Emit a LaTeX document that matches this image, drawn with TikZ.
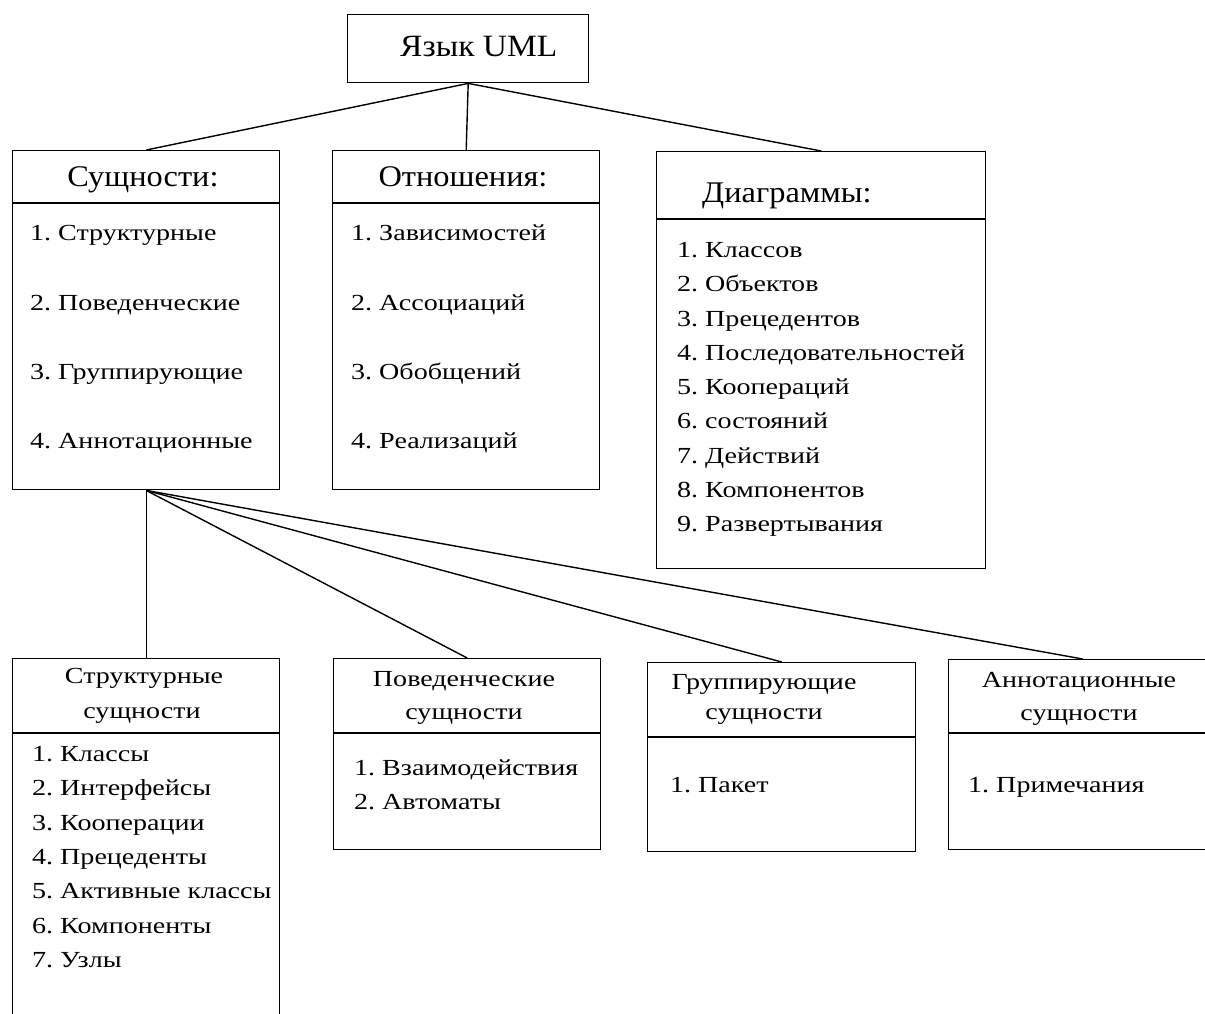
\documentclass[tikz,border=0pt]{standalone}
\usepackage{fontspec}
\setmainfont{Liberation Serif}
\newfontfamily\itemfont{Liberation Serif}[FakeStretch=1.22]
\newfontfamily\headfont{Liberation Serif}[FakeStretch=1.08]
\frenchspacing
\begin{document}
\begin{tikzpicture}[x=1pt,y=-1pt,
  box/.style={draw, line width=1.4pt, inner sep=0pt, anchor=north west},
  wire/.style={line width=1.4pt},
  bigtext/.style={inner sep=0pt, anchor=base west, font=\headfont\fontsize{31}{31}\selectfont},
  headtext/.style={inner sep=0pt, anchor=base, font=\headfont\fontsize{30}{30}\selectfont},
  itemtext/.style={inner sep=0pt, anchor=base west, font=\itemfont\fontsize{23}{23}\selectfont},
  subtext/.style={inner sep=0pt, anchor=base, font=\itemfont\fontsize{23}{23}\selectfont},
]
\useasboundingbox (0,0) rectangle (1205,1014);

% boxes
\node[box, minimum width=241pt, minimum height=68pt]  (uml) at (347,14) {};
\node[box, minimum width=267pt, minimum height=339pt] (ent) at (12,150) {};
\node[box, minimum width=267pt, minimum height=339pt] (rel) at (332,150) {};
\node[box, minimum width=329pt, minimum height=417pt] (dia) at (656,151) {};
\node[box, minimum width=267pt, minimum height=380pt] (str) at (12,658) {};
\node[box, minimum width=267pt, minimum height=191pt] (beh) at (333,658) {};
\node[box, minimum width=268pt, minimum height=189pt] (grp) at (647,662) {};
\node[box, minimum width=268pt, minimum height=190pt] (ann) at (948,659) {};

% header dividers
\foreach \b/\d in {ent/53, rel/53, dia/68, str/75, beh/75, grp/75, ann/74}
  \draw[wire] ([yshift=-\d pt]\b.north west) -- ([yshift=-\d pt]\b.north east);

% texts
\node[bigtext] (tuml) at (400,57) {Язык UML};

\node[headtext] (hent) at (143,186) {Сущности:};
\node[itemtext] (e1) at (30,240) {1. Структурные};
\node[itemtext] (e2) at (30,310) {2. Поведенческие};
\node[itemtext] (e3) at (30,379) {3. Группирующие};
\node[itemtext] (e4) at (30,448) {4. Аннотационные};

\node[headtext] (hrel) at (463,186) {Отношения:};
\node[itemtext] (r1) at (351,240) {1. Зависимостей};
\node[itemtext] (r2) at (351,310) {2. Ассоциаций};
\node[itemtext] (r3) at (351,379) {3. Обобщений};
\node[itemtext] (r4) at (351,448) {4. Реализаций};

\node[headtext, anchor=base west] (hdia) at (702,202) {Диаграммы:};
\node[itemtext] (d1) at (677,257) {1. Классов};
\node[itemtext] (d2) at (677,291) {2. Объектов};
\node[itemtext] (d3) at (677,326) {3. Прецедентов};
\node[itemtext] (d4) at (677,360) {4. Последовательностей};
\node[itemtext] (d5) at (677,394) {5. Коопераций};
\node[itemtext] (d6) at (677,428) {6. состояний};
\node[itemtext] (d7) at (677,463) {7. Действий};
\node[itemtext] (d8) at (677,497) {8. Компонентов};
\node[itemtext] (d9) at (677,531) {9. Развертывания};

\node[subtext] (hstr1) at (144,683) {Структурные};
\node[subtext] (hstr2) at (142,718) {сущности};
\node[itemtext] (s1) at (32,761) {1. Классы};
\node[itemtext] (s2) at (32,795) {2. Интерфейсы};
\node[itemtext] (s3) at (32,830) {3. Кооперации};
\node[itemtext] (s4) at (32,864) {4. Прецеденты};
\node[itemtext] (s5) at (32,898) {5. Активные классы};
\node[itemtext] (s6) at (32,933) {6. Компоненты};
\node[itemtext] (s7) at (32,967) {7. Узлы};

\node[subtext] (hbeh1) at (464,686) {Поведенческие};
\node[subtext] (hbeh2) at (464,719) {сущности};
\node[itemtext] (b1) at (354,775) {1. Взаимодействия};
\node[itemtext] (b2) at (354,809) {2. Автоматы};

\node[subtext] (hgrp1) at (764,689) {Группирующие};
\node[subtext] (hgrp2) at (764,719) {сущности};
\node[itemtext] (g1) at (670,792) {1. Пакет};

\node[subtext] (hann1) at (1079,687) {Аннотационные};
\node[subtext] (hann2) at (1079,720) {сущности};
\node[itemtext] (a1) at (968,792) {1. Примечания};

% connectors
\draw[wire] (uml.south) -- (ent.north);
\draw[wire] (uml.south) -- (rel.north);
\draw[wire] (uml.south) -- (dia.north);
\draw[wire] (ent.south) -- (str.north);
\draw[wire] (ent.south) -- (beh.north);
\draw[wire] (ent.south) -- (grp.north);
\draw[wire] (ent.south) -- (ann.north);
\end{tikzpicture}
\end{document}
